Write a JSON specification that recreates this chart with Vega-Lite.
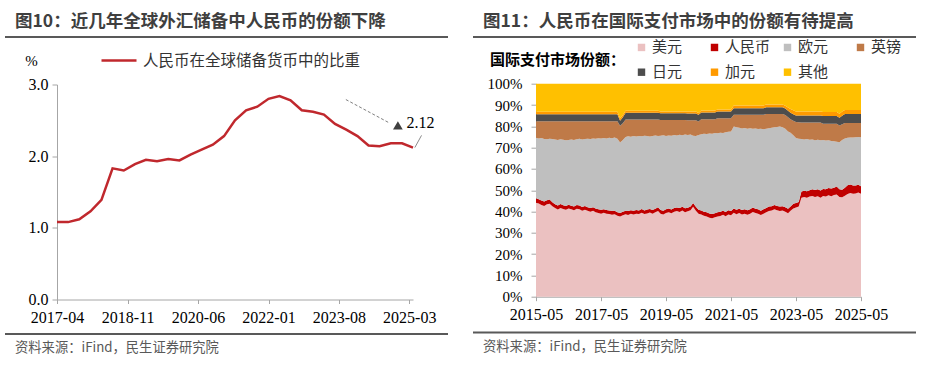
{
"$schema":"https://vega.github.io/schema/vega-lite/v6.json",
"padding":{"left":5,"top":13,"right":0,"bottom":0},
"background":"white",
"config":{"view":{"stroke":null},"axis":{"grid":false}},
"columns":2,"spacing":25,
"resolve":{"scale":{"color":"independent"},"legend":{"color":"independent"}},
"concat":[
{"columns":1,"spacing":3.5,
 "resolve":{"scale":{"color":"independent"},"legend":{"color":"independent"}},
 "concat":[
 {"width":443,"height":2,"data":{"values":[]},"mark":"rule","encoding":{},
  "view":{"fill":"#595959","stroke":null},
  "title":{"text":"图10：近几年全球外汇储备中人民币的份额下降","anchor":"start","frame":"group","dx":10,"offset":-8.5,"baseline":"alphabetic","font":"Noto Sans CJK SC","fontSize":17.5,"fontWeight":"bold","color":"#3F3F3F"}},
 {"columns":1,"spacing":7.5,
  "resolve":{"scale":{"color":"independent"},"legend":{"color":"independent"}},
  "concat":[
  {"spacing":0,
   "resolve":{"scale":{"color":"independent"},"legend":{"color":"independent"}},
   "hconcat":[
   {"width":1,"height":1,"data":{"values":[]},"mark":"rule","encoding":{}},
   {"width":356,"height":215,
   "layer":[
    {"data":{"values":[
     {"d":"2017/04/01","v":1.08},{"d":"2017/07/01","v":1.08},{"d":"2017/10/01","v":1.12},{"d":"2018/01/01","v":1.23},
     {"d":"2018/04/01","v":1.39},{"d":"2018/07/01","v":1.83},{"d":"2018/10/01","v":1.80},{"d":"2019/01/01","v":1.89},
     {"d":"2019/04/01","v":1.95},{"d":"2019/07/01","v":1.93},{"d":"2019/10/01","v":1.96},{"d":"2020/01/01","v":1.94},
     {"d":"2020/04/01","v":2.02},{"d":"2020/07/01","v":2.09},{"d":"2020/10/01","v":2.16},{"d":"2021/01/01","v":2.28},
     {"d":"2021/04/01","v":2.50},{"d":"2021/07/01","v":2.64},{"d":"2021/10/01","v":2.69},{"d":"2022/01/01","v":2.80},
     {"d":"2022/04/01","v":2.84},{"d":"2022/07/01","v":2.78},{"d":"2022/10/01","v":2.64},{"d":"2023/01/01","v":2.62},
     {"d":"2023/04/01","v":2.58},{"d":"2023/07/01","v":2.45},{"d":"2023/10/01","v":2.37},{"d":"2024/01/01","v":2.28},
     {"d":"2024/04/01","v":2.15},{"d":"2024/07/01","v":2.14},{"d":"2024/10/01","v":2.18},{"d":"2025/01/01","v":2.18},
     {"d":"2025/04/01","v":2.12}]},
     "mark":{"type":"line","strokeWidth":2.5},
     "encoding":{
      "x":{"field":"d","type":"temporal",
       "scale":{"domain":[{"year":2017,"month":4,"date":1},{"year":2025,"month":4,"date":1}]},
       "axis":{"title":null,"format":"%Y-%m","values":[{"year":2017,"month":4,"date":1},{"year":2018,"month":11,"date":1},{"year":2020,"month":6,"date":1},{"year":2022,"month":1,"date":1},{"year":2023,"month":8,"date":1},{"year":2025,"month":3,"date":1}],
        "labelFont":"Liberation Serif","labelFontSize":16,"labelColor":"#000","tickSize":4,"tickColor":"#A6A6A6","domainColor":"#A6A6A6","labelPadding":6,"labelFlush":false,"labelOverlap":false}},
      "y":{"field":"v","type":"quantitative","scale":{"domain":[0,3]},
       "axis":{"values":[0,0.5,1,1.5,2,2.5,3],"format":".1f","title":"%","titleAngle":0,"titleX":-26,"titleY":-24,"titleAlign":"center","titleBaseline":"middle","titleFont":"Liberation Serif","titleFontSize":15,"titleFontWeight":"normal","titleColor":"#000",
        "labelFont":"Liberation Serif","labelFontSize":16,"labelColor":"#000","tickSize":5,"tickColor":"#A6A6A6","domainColor":"#A6A6A6","labelPadding":4,"minExtent":51}},
      "color":{"datum":"人民币在全球储备货币中的比重","scale":{"range":["#C0282D"]},
       "legend":{"title":null,"orient":"none","legendX":43,"legendY":-43,"direction":"horizontal","symbolType":"stroke","symbolSize":1225,"symbolStrokeWidth":2.5,"labelFont":"Noto Sans CJK SC","labelFontSize":15.5,"labelColor":"#333","labelOffset":5,"labelLimit":400,"padding":0}}}},
    {"data":{"values":[{}]},"mark":{"type":"rule","strokeDash":[3,2],"color":"#7F7F7F","strokeWidth":1},
     "encoding":{"x":{"datum":{"year":2023,"month":9,"date":28}},"x2":{"datum":{"year":2024,"month":9,"date":12}},"y":{"datum":2.79},"y2":{"datum":2.47}}},
    {"data":{"values":[{}]},"mark":{"type":"point","shape":"triangle-up","filled":true,"color":"#404040","size":95,"opacity":1},
     "encoding":{"x":{"datum":{"year":2024,"month":11,"date":28}},"y":{"datum":2.43}}},
    {"data":{"values":[{}]},"mark":{"type":"text","align":"left","baseline":"middle","font":"Liberation Serif","fontSize":16,"color":"#000"},
     "encoding":{"x":{"datum":{"year":2025,"month":2,"date":6}},"y":{"datum":2.46},"text":{"value":"2.12"}}},
    {"data":{"values":[{}]},"mark":{"type":"rule","color":"#8C8C8C","strokeWidth":1},
     "encoding":{"x":{"datum":{"year":2025,"month":4,"date":16}},"x2":{"datum":{"year":2025,"month":6,"date":10}},"y":{"datum":2.12},"y2":{"datum":2.29}}}
   ]}]},
  {"width":443,"height":2,"data":{"values":[]},"mark":"rule","encoding":{},
   "view":{"fill":"#595959","stroke":null},
   "title":{"text":"资料来源：iFind，民生证券研究院","orient":"bottom","anchor":"start","frame":"group","dx":10,"offset":6,"baseline":"top","font":"Noto Sans CJK SC","fontSize":13.3,"fontWeight":"normal","color":"#595959"}}
 ]}
]},
{"columns":1,"spacing":1.7,
 "resolve":{"scale":{"color":"independent"},"legend":{"color":"independent"}},
 "concat":[
 {"width":443,"height":2,"data":{"values":[]},"mark":"rule","encoding":{},
  "view":{"fill":"#595959","stroke":null},
  "title":{"text":"图11：人民币在国际支付市场中的份额有待提高","anchor":"start","frame":"group","dx":10,"offset":-8.5,"baseline":"alphabetic","font":"Noto Sans CJK SC","fontSize":17.5,"fontWeight":"bold","color":"#3F3F3F"}},
 {"columns":1,"spacing":8.8,
  "resolve":{"scale":{"color":"independent"},"legend":{"color":"independent"}},
  "concat":[
  {"spacing":0,
   "resolve":{"scale":{"color":"independent"},"legend":{"color":"independent"}},
   "hconcat":[
   {"width":1,"height":1,"data":{"values":[]},"mark":"rule","encoding":{}},
   {"width":325,"height":213,
   "data":{"values":[
{"d":"2015/05/01","美元":44.1,"人民币":2.1,"欧元":28.4,"英镑":7.8,"日元":3.2,"加元":1.2,"其他":13.2},
{"d":"2015/06/01","美元":43.8,"人民币":2.0,"欧元":28.5,"英镑":8.1,"日元":3.2,"加元":1.2,"其他":13.2},
{"d":"2015/07/01","美元":43.0,"人民币":2.2,"欧元":29.3,"英镑":7.9,"日元":3.2,"加元":1.2,"其他":13.2},
{"d":"2015/08/01","美元":42.6,"人民币":2.1,"欧元":29.3,"英镑":8.4,"日元":3.2,"加元":1.2,"其他":13.2},
{"d":"2015/09/01","美元":43.4,"人民币":1.9,"欧元":28.6,"英镑":8.5,"日元":3.2,"加元":1.2,"其他":13.2},
{"d":"2015/10/01","美元":43.6,"人民币":2.0,"欧元":28.6,"英镑":8.2,"日元":3.2,"加元":1.2,"其他":13.2},
{"d":"2015/11/01","美元":42.5,"人民币":1.9,"欧元":29.6,"英镑":8.4,"日元":3.2,"加元":1.2,"其他":13.2},
{"d":"2015/12/01","美元":41.6,"人民币":1.8,"欧元":30.4,"英镑":8.6,"日元":3.2,"加元":1.2,"其他":13.2},
{"d":"2016/01/01","美元":40.9,"人民币":1.9,"欧元":30.8,"英镑":8.8,"日元":3.2,"加元":1.2,"其他":13.2},
{"d":"2016/02/01","美元":41.7,"人民币":1.8,"欧元":30.4,"英镑":8.5,"日元":3.2,"加元":1.2,"其他":13.2},
{"d":"2016/03/01","美元":41.2,"人民币":1.7,"欧元":30.8,"英镑":8.7,"日元":3.2,"加元":1.2,"其他":13.2},
{"d":"2016/04/01","美元":40.8,"人民币":1.8,"欧元":30.9,"英镑":8.9,"日元":3.2,"加元":1.2,"其他":13.2},
{"d":"2016/05/01","美元":41.4,"人民币":1.8,"欧元":30.4,"英镑":8.8,"日元":3.2,"加元":1.2,"其他":13.2},
{"d":"2016/06/01","美元":41.0,"人民币":1.7,"欧元":31.1,"英镑":8.6,"日元":3.2,"加元":1.2,"其他":13.2},
{"d":"2016/07/01","美元":40.6,"人民币":1.8,"欧元":31.2,"英镑":8.8,"日元":3.2,"加元":1.2,"其他":13.2},
{"d":"2016/08/01","美元":41.3,"人民币":1.7,"欧元":30.9,"英镑":8.5,"日元":3.2,"加元":1.2,"其他":13.2},
{"d":"2016/09/01","美元":41.0,"人民币":1.8,"欧元":31.3,"英镑":8.3,"日元":3.2,"加元":1.2,"其他":13.2},
{"d":"2016/10/01","美元":40.4,"人民币":1.7,"欧元":31.7,"英镑":8.6,"日元":3.2,"加元":1.2,"其他":13.2},
{"d":"2016/11/01","美元":40.8,"人民币":1.8,"欧元":31.4,"英镑":8.4,"日元":3.2,"加元":1.2,"其他":13.2},
{"d":"2016/12/01","美元":40.3,"人民币":1.7,"欧元":32.2,"英镑":8.2,"日元":3.2,"加元":1.2,"其他":13.2},
{"d":"2017/01/01","美元":39.9,"人民币":1.8,"欧元":32.3,"英镑":8.4,"日元":3.2,"加元":1.2,"其他":13.2},
{"d":"2017/02/01","美元":40.3,"人民币":1.7,"欧元":32.3,"英镑":8.1,"日元":3.2,"加元":1.2,"其他":13.2},
{"d":"2017/03/01","美元":39.6,"人民币":1.8,"欧元":32.7,"英镑":8.3,"日元":3.2,"加元":1.2,"其他":13.2},
{"d":"2017/04/01","美元":39.3,"人民币":1.7,"欧元":33.4,"英镑":8.0,"日元":3.2,"加元":1.2,"其他":13.2},
{"d":"2017/05/01","美元":39.0,"人民币":1.8,"欧元":33.5,"英镑":8.1,"日元":3.2,"加元":1.2,"其他":13.2},
{"d":"2017/06/01","美元":39.4,"人民币":1.7,"欧元":33.4,"英镑":7.9,"日元":3.2,"加元":1.2,"其他":13.2},
{"d":"2017/07/01","美元":38.9,"人民币":1.8,"欧元":33.6,"英镑":8.1,"日元":3.2,"加元":1.2,"其他":13.2},
{"d":"2017/08/01","美元":38.8,"人民币":1.7,"欧元":34.1,"英镑":7.8,"日元":3.2,"加元":1.2,"其他":13.2},
{"d":"2017/09/01","美元":38.5,"人民币":1.8,"欧元":34.1,"英镑":8.0,"日元":3.2,"加元":1.2,"其他":13.2},
{"d":"2017/10/01","美元":38.7,"人民币":1.7,"欧元":34.3,"英镑":7.7,"日元":3.2,"加元":1.2,"其他":13.2},
{"d":"2017/11/01","美元":38.0,"人民币":1.7,"欧元":34.5,"英镑":8.2,"日元":3.2,"加元":1.2,"其他":13.2},
{"d":"2017/12/01","美元":37.6,"人民币":1.7,"欧元":33.1,"英镑":7.9,"日元":2.3,"加元":1.2,"其他":16.2},
{"d":"2018/01/01","美元":38.2,"人民币":1.7,"欧元":33.7,"英镑":7.8,"日元":2.8,"加元":1.1,"其他":14.7},
{"d":"2018/02/01","美元":38.7,"人民币":1.7,"欧元":34.6,"英镑":8.2,"日元":3.2,"加元":0.9,"其他":12.7},
{"d":"2018/03/01","美元":38.4,"人民币":1.8,"欧元":35.1,"英镑":7.9,"日元":3.2,"加元":0.9,"其他":12.7},
{"d":"2018/04/01","美元":38.9,"人民币":1.7,"欧元":34.5,"英镑":8.1,"日元":3.2,"加元":0.9,"其他":12.7},
{"d":"2018/05/01","美元":38.6,"人民币":1.8,"欧元":35.0,"英镑":7.8,"日元":3.2,"加元":0.9,"其他":12.7},
{"d":"2018/06/01","美元":39.0,"人民币":1.7,"欧元":34.5,"英镑":8.0,"日元":3.2,"加元":0.9,"其他":12.7},
{"d":"2018/07/01","美元":38.8,"人民币":1.7,"欧元":35.0,"英镑":7.7,"日元":3.2,"加元":0.9,"其他":12.7},
{"d":"2018/08/01","美元":39.4,"人民币":1.8,"欧元":34.1,"英镑":7.9,"日元":3.2,"加元":0.9,"其他":12.7},
{"d":"2018/09/01","美元":38.8,"人民币":1.7,"欧元":35.1,"英镑":7.6,"日元":3.2,"加元":0.9,"其他":12.7},
{"d":"2018/10/01","美元":39.1,"人民币":1.8,"欧元":34.5,"英镑":7.8,"日元":3.2,"加元":0.9,"其他":12.7},
{"d":"2018/11/01","美元":39.5,"人民币":1.7,"欧元":34.0,"英镑":8.0,"日元":3.2,"加元":0.9,"其他":12.7},
{"d":"2018/12/01","美元":38.9,"人民币":1.8,"欧元":34.8,"英镑":7.7,"日元":3.2,"加元":0.9,"其他":12.7},
{"d":"2019/01/01","美元":39.6,"人民币":1.7,"欧元":34.4,"英镑":7.5,"日元":3.2,"加元":0.9,"其他":12.7},
{"d":"2019/02/01","美元":40.2,"人民币":1.8,"欧元":33.4,"英镑":7.8,"日元":3.2,"加元":0.9,"其他":12.7},
{"d":"2019/03/01","美元":39.0,"人民币":1.7,"欧元":34.9,"英镑":7.3,"日元":3.2,"加元":0.9,"其他":13.0},
{"d":"2019/04/01","美元":38.6,"人民币":1.8,"欧元":35.4,"英镑":7.1,"日元":3.2,"加元":0.9,"其他":13.0},
{"d":"2019/05/01","美元":39.3,"人民币":1.7,"欧元":34.5,"英镑":7.4,"日元":3.2,"加元":0.9,"其他":13.0},
{"d":"2019/06/01","美元":39.6,"人民币":1.8,"欧元":34.3,"英镑":7.2,"日元":3.2,"加元":0.9,"其他":13.0},
{"d":"2019/07/01","美元":39.2,"人民币":1.7,"欧元":34.7,"英镑":7.3,"日元":3.2,"加元":0.9,"其他":13.0},
{"d":"2019/08/01","美元":39.9,"人民币":1.8,"欧元":34.2,"英镑":7.0,"日元":3.2,"加元":0.9,"其他":13.0},
{"d":"2019/09/01","美元":40.2,"人民币":1.7,"欧元":33.8,"英镑":7.2,"日元":3.2,"加元":0.9,"其他":13.0},
{"d":"2019/10/01","美元":39.8,"人民币":1.8,"欧元":34.4,"英镑":6.9,"日元":3.2,"加元":0.9,"其他":13.0},
{"d":"2019/11/01","美元":40.5,"人民币":1.7,"欧元":33.6,"英镑":7.1,"日元":3.2,"加元":0.9,"其他":13.0},
{"d":"2019/12/01","美元":39.7,"人民币":1.8,"欧元":34.6,"英镑":6.8,"日元":3.2,"加元":0.9,"其他":13.0},
{"d":"2020/01/01","美元":40.1,"人民币":1.7,"欧元":34.1,"英镑":6.9,"日元":3.2,"加元":0.9,"其他":13.1},
{"d":"2020/02/01","美元":40.6,"人民币":1.8,"欧元":33.8,"英镑":6.6,"日元":3.2,"加元":0.9,"其他":13.1},
{"d":"2020/03/01","美元":42.2,"人民币":1.8,"欧元":31.6,"英镑":7.2,"日元":3.2,"加元":0.9,"其他":13.1},
{"d":"2020/04/01","美元":40.4,"人民币":1.8,"欧元":33.2,"英镑":7.4,"日元":3.2,"加元":0.9,"其他":13.1},
{"d":"2020/05/01","美元":39.0,"人民币":1.8,"欧元":35.1,"英镑":6.3,"日元":3.2,"加元":0.9,"其他":13.7},
{"d":"2020/06/01","美元":38.6,"人民币":1.9,"欧元":35.8,"英镑":7.0,"日元":3.2,"加元":0.9,"其他":12.6},
{"d":"2020/07/01","美元":38.0,"人民币":1.9,"欧元":36.6,"英镑":6.8,"日元":3.2,"加元":0.9,"其他":12.6},
{"d":"2020/08/01","美元":37.6,"人民币":2.0,"欧元":36.8,"英镑":6.9,"日元":3.2,"加元":0.9,"其他":12.6},
{"d":"2020/09/01","美元":37.1,"人民币":2.0,"欧元":37.5,"英镑":6.7,"日元":3.2,"加元":0.9,"其他":12.6},
{"d":"2020/10/01","美元":36.8,"人民币":2.0,"欧元":37.7,"英镑":6.8,"日元":3.2,"加元":0.9,"其他":12.6},
{"d":"2020/11/01","美元":37.3,"人民币":1.9,"欧元":37.6,"英镑":6.5,"日元":3.2,"加元":0.9,"其他":12.6},
{"d":"2020/12/01","美元":37.7,"人民币":2.0,"欧元":37.0,"英镑":7.1,"日元":3.2,"加元":0.9,"其他":12.1},
{"d":"2021/01/01","美元":37.9,"人民币":2.0,"欧元":37.1,"英镑":6.8,"日元":3.2,"加元":0.9,"其他":12.1},
{"d":"2021/02/01","美元":38.5,"人民币":1.9,"欧元":36.5,"英镑":6.9,"日元":3.2,"加元":0.9,"其他":12.1},
{"d":"2021/03/01","美元":37.8,"人民币":2.0,"欧元":37.4,"英镑":6.6,"日元":3.2,"加元":0.9,"其他":12.1},
{"d":"2021/04/01","美元":38.6,"人民币":2.0,"欧元":36.8,"英镑":6.4,"日元":3.2,"加元":0.9,"其他":12.1},
{"d":"2021/05/01","美元":38.2,"人民币":2.0,"欧元":37.4,"英镑":6.2,"日元":3.2,"加元":0.9,"其他":12.1},
{"d":"2021/06/01","美元":39.4,"人民币":2.0,"欧元":38.5,"英镑":5.5,"日元":3.1,"加元":1.3,"其他":10.2},
{"d":"2021/07/01","美元":38.7,"人民币":2.1,"欧元":38.8,"英镑":5.8,"日元":3.1,"加元":1.3,"其他":10.2},
{"d":"2021/08/01","美元":39.3,"人民币":2.0,"欧元":38.0,"英镑":6.1,"日元":3.1,"加元":1.3,"其他":10.2},
{"d":"2021/09/01","美元":38.6,"人民币":2.1,"欧元":38.3,"英镑":6.4,"日元":3.1,"加元":1.3,"其他":10.2},
{"d":"2021/10/01","美元":39.0,"人民币":2.0,"欧元":38.2,"英镑":6.2,"日元":3.1,"加元":1.3,"其他":10.2},
{"d":"2021/11/01","美元":38.5,"人民币":2.1,"欧元":38.3,"英镑":6.5,"日元":3.1,"加元":1.3,"其他":10.2},
{"d":"2021/12/01","美元":39.0,"人民币":2.0,"欧元":38.1,"英镑":6.3,"日元":3.1,"加元":1.3,"其他":10.2},
{"d":"2022/01/01","美元":39.8,"人民币":2.1,"欧元":36.9,"英镑":6.6,"日元":3.1,"加元":1.3,"其他":10.2},
{"d":"2022/02/01","美元":39.3,"人民币":2.0,"欧元":37.7,"英镑":6.4,"日元":3.1,"加元":1.3,"其他":10.2},
{"d":"2022/03/01","美元":38.9,"人民币":2.1,"欧元":37.7,"英镑":6.7,"日元":3.1,"加元":1.3,"其他":10.2},
{"d":"2022/04/01","美元":38.4,"人民币":2.0,"欧元":38.5,"英镑":6.5,"日元":3.1,"加元":1.3,"其他":10.2},
{"d":"2022/05/01","美元":38.9,"人民币":2.1,"欧元":37.6,"英镑":6.8,"日元":3.1,"加元":1.3,"其他":10.2},
{"d":"2022/06/01","美元":39.6,"人民币":2.0,"欧元":37.2,"英镑":7.0,"日元":3.1,"加元":1.3,"其他":9.8},
{"d":"2022/07/01","美元":40.2,"人民币":2.1,"欧元":36.8,"英镑":6.7,"日元":3.1,"加元":1.3,"其他":9.8},
{"d":"2022/08/01","美元":40.5,"人民币":2.0,"欧元":36.8,"英镑":6.5,"日元":3.1,"加元":1.3,"其他":9.8},
{"d":"2022/09/01","美元":41.0,"人民币":2.1,"欧元":36.4,"英镑":6.3,"日元":3.1,"加元":1.3,"其他":9.8},
{"d":"2022/10/01","美元":40.6,"人民币":2.0,"欧元":37.1,"英镑":6.1,"日元":3.1,"加元":1.3,"其他":9.8},
{"d":"2022/11/01","美元":40.2,"人民币":2.1,"欧元":37.6,"英镑":5.9,"日元":3.1,"加元":1.3,"其他":9.8},
{"d":"2022/12/01","美元":40.5,"人民币":2.0,"欧元":37.1,"英镑":6.2,"日元":3.1,"加元":1.3,"其他":9.8},
{"d":"2023/01/01","美元":39.9,"人民币":2.1,"欧元":36.8,"英镑":6.5,"日元":3.1,"加元":1.3,"其他":10.3},
{"d":"2023/02/01","美元":39.2,"人民币":2.1,"欧元":36.3,"英镑":6.6,"日元":3.1,"加元":1.5,"其他":11.2},
{"d":"2023/03/01","美元":40.4,"人民币":2.0,"欧元":34.6,"英镑":6.3,"日元":3.1,"加元":1.7,"其他":11.9},
{"d":"2023/04/01","美元":41.4,"人民币":2.2,"欧元":32.2,"英镑":6.8,"日元":3.1,"加元":1.8,"其他":12.5},
{"d":"2023/05/01","美元":41.9,"人民币":2.1,"欧元":30.5,"英镑":7.5,"日元":3.1,"加元":1.9,"其他":13.0},
{"d":"2023/06/01","美元":42.3,"人民币":2.2,"欧元":29.6,"英镑":7.8,"日元":3.2,"加元":1.9,"其他":13.0},
{"d":"2023/07/01","美元":46.5,"人民币":2.9,"欧元":24.6,"英镑":7.8,"日元":3.3,"加元":1.9,"其他":13.0},
{"d":"2023/08/01","美元":46.8,"人民币":3.0,"欧元":24.0,"英镑":8.0,"日元":3.3,"加元":1.9,"其他":13.0},
{"d":"2023/09/01","美元":46.4,"人民币":3.1,"欧元":24.5,"英镑":7.8,"日元":3.3,"加元":1.9,"其他":13.0},
{"d":"2023/10/01","美元":47.0,"人民币":3.0,"欧元":23.7,"英镑":8.1,"日元":3.3,"加元":1.9,"其他":13.0},
{"d":"2023/11/01","美元":47.3,"人民币":3.2,"欧元":23.3,"英镑":8.0,"日元":3.3,"加元":1.9,"其他":13.0},
{"d":"2023/12/01","美元":46.8,"人民币":3.3,"欧元":23.4,"英镑":8.3,"日元":3.3,"加元":1.9,"其他":13.0},
{"d":"2024/01/01","美元":47.2,"人民币":3.2,"欧元":23.3,"英镑":8.1,"日元":3.3,"加元":1.9,"其他":13.0},
{"d":"2024/02/01","美元":46.5,"人民币":3.4,"欧元":23.6,"英镑":8.3,"日元":3.3,"加元":1.9,"其他":13.0},
{"d":"2024/03/01","美元":47.3,"人民币":3.3,"欧元":23.0,"英镑":7.6,"日元":3.6,"加元":1.9,"其他":13.3},
{"d":"2024/04/01","美元":47.0,"人民币":3.5,"欧元":22.8,"英镑":7.9,"日元":3.6,"加元":1.9,"其他":13.3},
{"d":"2024/05/01","美元":47.6,"人民币":3.4,"欧元":22.4,"英镑":7.8,"日元":3.6,"加元":1.9,"其他":13.3},
{"d":"2024/06/01","美元":47.2,"人民币":3.6,"欧元":22.3,"英镑":8.1,"日元":3.6,"加元":1.9,"其他":13.3},
{"d":"2024/07/01","美元":47.7,"人民币":3.5,"欧元":21.8,"英镑":8.2,"日元":3.6,"加元":1.9,"其他":13.3},
{"d":"2024/08/01","美元":48.0,"人民币":3.7,"欧元":21.0,"英镑":8.5,"日元":3.6,"加元":1.9,"其他":13.3},
{"d":"2024/09/01","美元":46.8,"人民币":3.6,"欧元":22.1,"英镑":7.9,"日元":3.6,"加元":1.9,"其他":14.1},
{"d":"2024/10/01","美元":46.7,"人民币":3.5,"欧元":23.4,"英镑":7.4,"日元":4.0,"加元":1.9,"其他":13.1},
{"d":"2024/11/01","美元":47.4,"人民币":3.8,"欧元":23.1,"英镑":7.2,"日元":4.3,"加元":1.9,"其他":12.3},
{"d":"2024/12/01","美元":48.2,"人民币":4.1,"欧元":22.3,"英镑":6.9,"日元":4.3,"加元":1.9,"其他":12.3},
{"d":"2025/01/01","美元":48.7,"人民币":4.0,"欧元":22.1,"英镑":6.7,"日元":4.3,"加元":1.9,"其他":12.3},
{"d":"2025/02/01","美元":48.3,"人民币":3.9,"欧元":22.5,"英镑":6.8,"日元":4.3,"加元":1.9,"其他":12.3},
{"d":"2025/03/01","美元":48.4,"人民币":3.8,"欧元":22.7,"英镑":6.6,"日元":4.3,"加元":1.9,"其他":12.3},
{"d":"2025/04/01","美元":48.9,"人民币":3.7,"欧元":22.4,"英镑":6.5,"日元":4.3,"加元":1.9,"其他":12.3},
{"d":"2025/05/01","美元":48.3,"人民币":3.6,"欧元":23.0,"英镑":6.6,"日元":4.3,"加元":1.9,"其他":12.3}
   ]},
   "transform":[
    {"fold":["美元","人民币","欧元","英镑","日元","加元","其他"],"as":["k","v"]},
    {"lookup":"k","from":{"data":{"values":[{"k":"美元","o":1},{"k":"人民币","o":2},{"k":"欧元","o":3},{"k":"英镑","o":4},{"k":"日元","o":5},{"k":"加元","o":6},{"k":"其他","o":7}]},"key":"k","fields":["o"]}}
   ],
   "mark":{"type":"area","opacity":1},
   "encoding":{
    "x":{"field":"d","type":"temporal",
     "scale":{"domain":[{"year":2015,"month":5,"date":1},{"year":2025,"month":5,"date":1}]},
     "axis":{"title":null,"format":"%Y-%m","values":[{"year":2015,"month":5,"date":1},{"year":2017,"month":5,"date":1},{"year":2019,"month":5,"date":1},{"year":2021,"month":5,"date":1},{"year":2023,"month":5,"date":1},{"year":2025,"month":5,"date":1}],
      "labelFont":"Liberation Serif","labelFontSize":16,"labelColor":"#000","tickSize":4,"tickColor":"#A6A6A6","domainColor":"#A6A6A6","labelPadding":6,"labelFlush":false,"labelOverlap":false}},
    "y":{"field":"v","type":"quantitative","stack":"zero","scale":{"domain":[0,100]},
     "axis":{"title":null,"values":[0,10,20,30,40,50,60,70,80,90,100],"labelExpr":"datum.value + '%'",
      "labelFont":"Liberation Serif","labelFontSize":15,"labelColor":"#000","tickSize":5,"tickColor":"#A6A6A6","domainColor":"#A6A6A6","labelPadding":9,"minExtent":62}},
    "order":{"field":"o","type":"quantitative","sort":"ascending"},
    "color":{"field":"k","type":"nominal","sort":["美元","人民币","欧元","英镑","日元","加元","其他"],
     "scale":{"domain":["美元","人民币","欧元","英镑","日元","加元","其他"],"range":["#EBC1C1","#C00000","#BFBFBF","#BF7A48","#4D4D4D","#FF9A00","#FFC000"]},
     "legend":{"title":"国际支付市场份额：","orient":"none","legendX":-46,"legendY":-44,"direction":"horizontal","columns":4,"gridAlign":"all",
      "titleOrient":"left","titleAnchor":"middle","titleBaseline":"middle","titlePadding":8,
      "titleFont":"Noto Sans CJK SC","titleFontSize":15,"titleFontWeight":"bold","titleColor":"#000",
      "labelFont":"Noto Sans CJK SC","labelFontSize":15,"labelColor":"#333","labelOffset":3,
      "symbolType":"square","symbolSize":55,"symbolStrokeWidth":0,"symbolOpacity":1,
      "columnPadding":9,"rowPadding":9,"padding":0}}
   }}]},
  {"width":443,"height":2,"data":{"values":[]},"mark":"rule","encoding":{},
   "view":{"fill":"#595959","stroke":null},
   "title":{"text":"资料来源：iFind，民生证券研究院","orient":"bottom","anchor":"start","frame":"group","dx":10,"offset":6,"baseline":"top","font":"Noto Sans CJK SC","fontSize":13.3,"fontWeight":"normal","color":"#595959"}}
 ]}
]}
]
}
